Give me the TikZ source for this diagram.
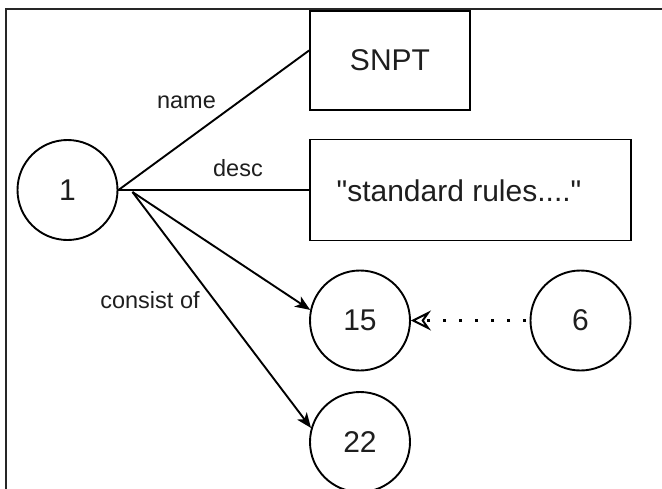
\documentclass[tikz,border=0pt]{standalone}
\usepackage{fontspec}
\setmainfont{Liberation Sans}[Ligatures=TeXOff]
\usetikzlibrary{arrows.meta}
\definecolor{txt}{RGB}{30,30,30}
\begin{document}
\begin{tikzpicture}[x=1pt,y=-1pt,
  ent/.style={draw=black, line width=1.9pt, circle, minimum size=100pt, inner sep=0pt,
    text=txt, font=\fontsize{30}{36}\selectfont},
  valbox/.style={draw=black, line width=1.9pt, rectangle, inner sep=0pt,
    text=txt, font=\fontsize{30}{36}\selectfont},
  maintext/.style={text=txt, font=\fontsize{30}{36}\selectfont, inner sep=0pt},
  edgetext/.style={text=txt, font=\fontsize{23.5}{28}\selectfont, inner sep=0pt, anchor=base},
  conn/.style={draw=black, line width=1.9pt},
  relarrow/.style={conn, -{Stealth[length=15pt, width=12pt, inset=4pt]}},
  refarrow/.style={draw=black, line width=3pt, dash pattern=on 3pt off 13pt, dash phase=12.5pt,
    -{Stealth[open, length=20pt, width=20pt, inset=7pt, line width=2pt]}}
]
\useasboundingbox (0,0) rectangle (662,488);
\clip (0,0) rectangle (662,488);
% outer frame
\draw[line width=2.4pt, color=black!85, line join=miter] (6.2,540) -- (6.2,8.7) -- (700,8.7);

% nodes
\node[ent] (c1) at (67.5,190) {1};
\node[valbox, minimum width=160pt, minimum height=99pt] (snpt) at (390,60.5) {SNPT};
\node[valbox, minimum width=321pt, minimum height=101pt] (desc) at (470.5,190) {};
\node[maintext, anchor=base] (desctext) at (459,201.5) {"standard rules...."};
\node[ent] (c15) at (360,320.5) {15};
\node[ent] (c6) at (580.5,320.5) {6};
\node[ent] (c22) at (360,442) {22};

% connectors
\draw[conn] (c1.east) -- ([yshift=10pt]snpt.west);
\draw[conn] (c1.east) -- (desc.west);
\draw[relarrow] ([shift={(14pt,-2pt)}]c1.east) -- (c15.168);
\draw[relarrow] ([shift={(14pt,-2pt)}]c1.east) -- (c22.164);
\draw[refarrow] (c6.west) -- (c15.east);

% edge labels
\node[edgetext] (lname) at (186.5,108) {name};
\node[edgetext] (ldesc) at (238,176.7) {desc};
\node[edgetext] (lcons) at (150,308) {consist of};
\end{tikzpicture}
\end{document}
